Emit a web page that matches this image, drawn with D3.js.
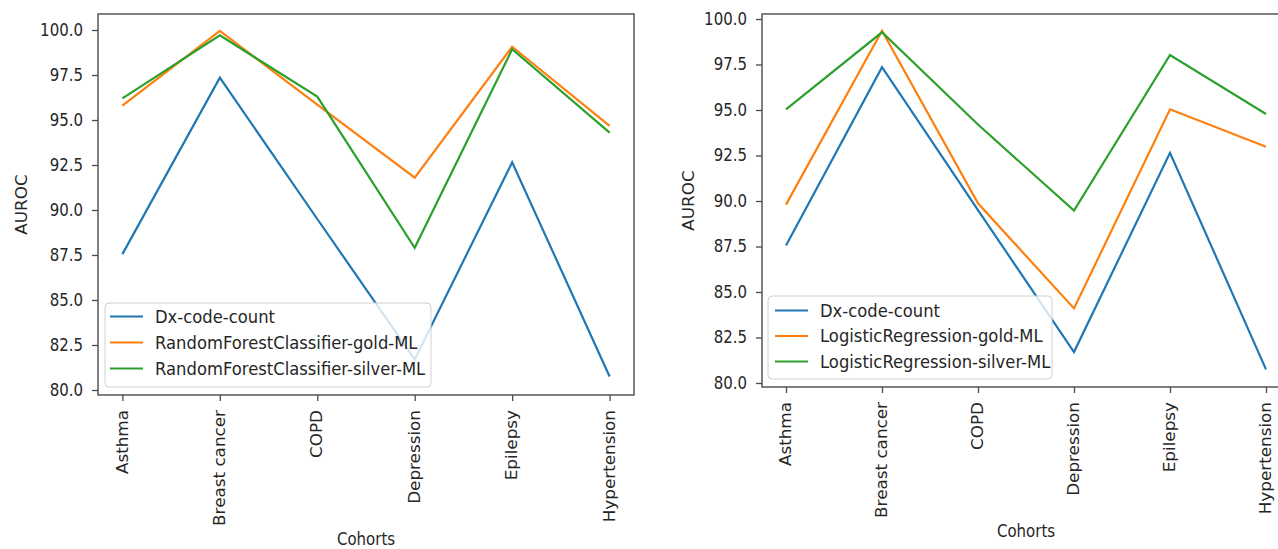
<!DOCTYPE html>
<html>
<head>
<meta charset="utf-8">
<script src="https://cdn.jsdelivr.net/npm/d3@7"></script>
<style>
  html, body { margin: 0; padding: 0; background: #fff; }
  svg { display: block; }
  text { font-family: "DejaVu Sans", sans-serif; fill: #262626; }
</style>
</head>
<body>
<svg id="chart" width="1278" height="549"></svg>
<script>
// ---- data ----
const cohorts = ["Asthma", "Breast cancer", "COPD", "Depression", "Epilepsy", "Hypertension"];
const yTicks = [80.0, 82.5, 85.0, 87.5, 90.0, 92.5, 95.0, 97.5, 100.0];

const dxCodeCount = [87.55, 97.35, 89.5, 81.7, 92.65, 80.75];
const rfGold      = [95.8, 99.95, 95.85, 91.8, 99.07, 94.67];
const rfSilver    = [96.2, 99.7, 96.3, 87.9, 98.93, 94.3];
const lrGold      = [89.8, 99.36, 89.87, 84.1, 95.04, 92.98];
const lrSilver    = [95.04, 99.27, 94.2, 89.47, 98.02, 94.78];

const leftSeries  = [
  { name: "Dx-code-count", values: dxCodeCount },
  { name: "RandomForestClassifier-gold-ML", values: rfGold },
  { name: "RandomForestClassifier-silver-ML", values: rfSilver }
];
const rightSeries = [
  { name: "Dx-code-count", values: dxCodeCount },
  { name: "LogisticRegression-gold-ML", values: lrGold },
  { name: "LogisticRegression-silver-ML", values: lrSilver }
];
const colors = ["#1f77b4", "#ff7f0e", "#2ca02c"];

// ---- drawing ----
const svg = d3.select("#chart");
svg.append("rect").attr("width", 1278).attr("height", 549).attr("fill", "#fff");
const SY = 1.12; // vertical stretch of the reference image text

function txt(g, x, y, s, size, anchor, rot, baseline) {
  const t = g.append("text")
    .attr("transform", `translate(${x},${y}) scale(1,${SY})` + (rot ? ` rotate(${rot})` : ""))
    .attr("font-size", size)
    .attr("text-anchor", anchor)
    .text(s);
  if (baseline) t.attr("dominant-baseline", baseline);
  return t;
}

function panel(p) {
  const g = svg.append("g");
  const x = d3.scalePoint().domain(cohorts).range([p.x0, p.x1]);
  const y = d3.scaleLinear().domain([80, 100]).range([p.y80, p.y100]);

  const clipId = "clip" + p.id;
  svg.append("clipPath").attr("id", clipId)
    .append("rect").attr("x", p.fl).attr("y", p.ft).attr("width", p.fr - p.fl).attr("height", p.fb - p.ft);

  // lines
  const line = d3.line().x((d, i) => x(cohorts[i])).y(d => y(d));
  const lg = g.append("g").attr("clip-path", `url(#${clipId})`);
  p.series.forEach((s, i) => {
    lg.append("path").datum(s.values)
      .attr("d", line)
      .attr("fill", "none")
      .attr("stroke", colors[i])
      .attr("stroke-width", 2.2)
      .attr("stroke-linejoin", "miter");
  });

  // frame
  g.append("rect").attr("x", p.fl).attr("y", p.ft)
    .attr("width", p.fr - p.fl).attr("height", p.fb - p.ft)
    .attr("fill", "none").attr("stroke", "#4a4a4a").attr("stroke-width", 1.4);

  // y axis ticks
  const yAxis = d3.axisLeft(y).tickValues(yTicks).tickSize(6).tickFormat("");
  const ya = g.append("g").attr("transform", `translate(${p.fl},0)`).call(yAxis);
  ya.select(".domain").remove();
  ya.selectAll(".tick line").attr("stroke", "#4a4a4a").attr("stroke-width", 1.3);
  yTicks.forEach(v => {
    txt(g, p.fl - 15, y(v), d3.format(".1f")(v), 15, "end", 0, "central");
  });

  // x axis ticks
  const xAxis = d3.axisBottom(x).tickSize(6).tickFormat("");
  const xa = g.append("g").attr("transform", `translate(0,${p.fb})`).call(xAxis);
  xa.select(".domain").remove();
  xa.selectAll(".tick line").attr("stroke", "#4a4a4a").attr("stroke-width", 1.3);
  cohorts.forEach(c => {
    txt(g, x(c), p.xlabTop, c, 15, "end", -90, "central");
  });

  // axis titles
  txt(g, p.cohortX, p.cohortY, "Cohorts", 15, "middle", 0, "central");
  txt(g, p.aurocX, (p.ft + p.fb) / 2, "AUROC", 15, "middle", -90, "central");

  // legend
  const L = p.legend;
  g.append("rect").attr("x", L.x).attr("y", L.y).attr("width", L.w).attr("height", L.h)
    .attr("rx", 4).attr("fill", "#fff").attr("fill-opacity", 0.8)
    .attr("stroke", "#d0d0d0").attr("stroke-width", 1);
  p.series.forEach((s, i) => {
    const ry = L.row0 + i * L.step;
    g.append("line").attr("x1", L.lx0).attr("x2", L.lx1).attr("y1", ry).attr("y2", ry)
      .attr("stroke", colors[i]).attr("stroke-width", 2.2);
    txt(g, L.tx, ry, s.name, 16.4, "start", 0, "central");
  });
}

panel({
  id: "L", series: leftSeries,
  fl: 98, fr: 634, ft: 14, fb: 395,
  x0: 122.4, x1: 609.6, y80: 390, y100: 30,
  xlabTop: 410, cohortX: 366, cohortY: 539, aurocX: 22,
  legend: { x: 105, y: 303, w: 326, h: 84, row0: 316.5, step: 26, lx0: 110, lx1: 143, tx: 155 }
});

panel({
  id: "R", series: rightSeries,
  fl: 762, fr: 1290, ft: 14, fb: 387,
  x0: 786, x1: 1266, y80: 383, y100: 19,
  xlabTop: 402, cohortX: 1026, cohortY: 531, aurocX: 689,
  legend: { x: 768, y: 296, w: 284, h: 83, row0: 310.5, step: 25.5, lx0: 775, lx1: 808, tx: 820 }
});
</script>
</body>
</html>
